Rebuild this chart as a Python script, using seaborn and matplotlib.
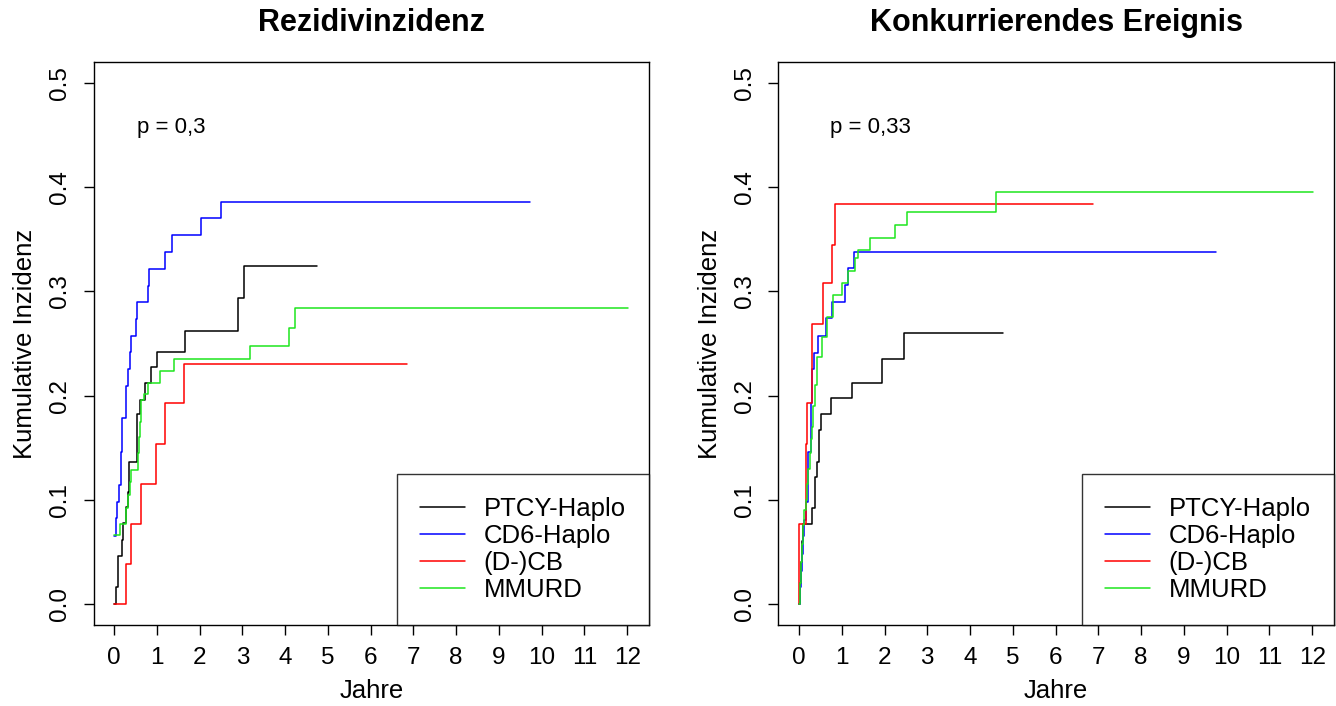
import matplotlib
matplotlib.use("Agg")
import matplotlib.pyplot as plt
import numpy as np
import pandas as pd
import seaborn as sns

groups = ["PTCY-Haplo", "CD6-Haplo", "(D-)CB", "MMURD"]
colors = ["black", "blue", "red", "#1ee61e"]
x_ticks = list(range(0, 13))
y_ticks = [0.0, 0.1, 0.2, 0.3, 0.4, 0.5]
y_tick_labels = ["0.0", "0.1", "0.2", "0.3", "0.4", "0.5"]

# Rezidivinzidenz (left panel), step curves
rel_ptcy_t = [0, 0.047, 0.101, 0.179, 0.218, 0.273, 0.32, 0.359, 0.53, 0.608, 0.725, 0.866, 1.014, 1.66, 2.91, 3.05, 4.74]
rel_ptcy_v = [0, 0.0166, 0.046, 0.062, 0.0774, 0.093, 0.108, 0.1365, 0.182, 0.196, 0.2117, 0.2276, 0.242, 0.2618, 0.2932, 0.3242, 0.3242]
rel_cd6_t = [0, 0.039, 0.078, 0.125, 0.164, 0.17, 0.175, 0.195, 0.281, 0.29, 0.335, 0.374, 0.398, 0.507, 0.53, 0.788, 0.827, 1.193, 1.349, 2.035, 2.495, 9.73]
rel_cd6_v = [0.0652, 0.0822, 0.0981, 0.1141, 0.130, 0.146, 0.1621, 0.1781, 0.1937, 0.2094, 0.226, 0.2414, 0.2574, 0.2734, 0.29, 0.3053, 0.3213, 0.3379, 0.3539, 0.3699, 0.3853, 0.3853]
rel_cb_t = [0, 0.281, 0.398, 0.632, 0.975, 1.193, 1.637, 6.85]
rel_cb_v = [0, 0.0385, 0.077, 0.1157, 0.154, 0.1925, 0.2302, 0.2302]
rel_mmurd_t = [0, 0.14, 0.28, 0.33, 0.37, 0.398, 0.569, 0.59, 0.61, 0.63, 0.70, 0.788, 1.076, 1.403, 3.18, 4.08, 4.23, 12.02]
rel_mmurd_v = [0.0662, 0.0767, 0.092, 0.105, 0.117, 0.1285, 0.145, 0.16, 0.175, 0.1957, 0.202, 0.2123, 0.2238, 0.2347, 0.2475, 0.265, 0.2843, 0.2843]

# Konkurrierendes Ereignis (right panel)
cmp_ptcy_t = [0, 0.02, 0.04, 0.06, 0.1, 0.296, 0.374, 0.429, 0.476, 0.507, 0.745, 1.232, 1.94, 2.463, 4.76]
cmp_ptcy_v = [0, 0.02, 0.04, 0.061, 0.0767, 0.0918, 0.122, 0.1365, 0.167, 0.182, 0.1973, 0.2123, 0.2347, 0.2596, 0.2596]
cmp_cd6_t = [0, 0.03, 0.05, 0.07, 0.09, 0.12, 0.164, 0.218, 0.273, 0.312, 0.359, 0.452, 0.632, 0.764, 1.076, 1.154, 1.287, 9.75]
cmp_cd6_v = [0, 0.016, 0.032, 0.048, 0.065, 0.081, 0.098, 0.146, 0.1925, 0.226, 0.241, 0.2574, 0.274, 0.29, 0.306, 0.322, 0.3376, 0.3376]
cmp_cb_t = [0, 0.01, 0.16, 0.17, 0.18, 0.296, 0.569, 0.77, 0.842, 6.87]
cmp_cb_v = [0, 0.077, 0.115, 0.154, 0.1925, 0.269, 0.3076, 0.3443, 0.3837, 0.3837]
cmp_mmurd_t = [0, 0.02, 0.04, 0.06, 0.09, 0.12, 0.164, 0.19, 0.22, 0.25, 0.27, 0.296, 0.33, 0.37, 0.413, 0.53, 0.647, 0.803, 0.998, 1.154, 1.31, 1.388, 1.661, 2.246, 2.519, 4.608, 12.02]
cmp_mmurd_v = [0, 0.02, 0.04, 0.058, 0.076, 0.09, 0.0998, 0.115, 0.13, 0.145, 0.158, 0.17, 0.19, 0.21, 0.237, 0.2564, 0.2756, 0.2964, 0.3076, 0.32, 0.3316, 0.34, 0.3514, 0.3635, 0.3763, 0.3949, 0.3949]


def long_df(pairs):
    frames = []
    for g, (t, v) in zip(groups, pairs):
        frames.append(pd.DataFrame({"Jahre": t, "ci": v, "group": g}))
    return pd.concat(frames, ignore_index=True)


rel = long_df([(rel_ptcy_t, rel_ptcy_v), (rel_cd6_t, rel_cd6_v),
               (rel_cb_t, rel_cb_v), (rel_mmurd_t, rel_mmurd_v)])
cmp = long_df([(cmp_ptcy_t, cmp_ptcy_v), (cmp_cd6_t, cmp_cd6_v),
               (cmp_cb_t, cmp_cb_v), (cmp_mmurd_t, cmp_mmurd_v)])

sns.set_theme(style="white")
plt.rcParams["font.family"] = ["Liberation Sans", "DejaVu Sans"]
plt.rcParams["text.color"] = "black"
plt.rcParams["axes.labelcolor"] = "black"
plt.rcParams["axes.titlecolor"] = "black"

fig = plt.figure(figsize=(13.36, 7.06), dpi=100)
ax1 = fig.add_axes([0.0700, 0.1147, 0.4158, 0.7975])
ax2 = fig.add_axes([0.5827, 0.1147, 0.4158, 0.7975])


def panel(ax, data, title, ptext, px):
    sns.lineplot(data=data, x="Jahre", y="ci", hue="group", hue_order=groups,
                 palette=colors, drawstyle="steps-post", estimator=None,
                 sort=False, linewidth=1.1, legend=False, ax=ax)
    ax.set_xlim(-0.48, 12.51)
    ax.set_ylim(-0.02, 0.52)
    ax.set_xticks(x_ticks)
    ax.set_xticklabels([str(x) for x in x_ticks])
    ax.set_yticks(y_ticks)
    ax.set_yticklabels(y_tick_labels, rotation=90, va="center")
    ax.tick_params(direction="out", length=7, width=1, labelsize=17.5,
                   color="black", labelcolor="black", bottom=True, left=True)
    ax.tick_params(axis="x", pad=9)
    ax.tick_params(axis="y", pad=9)
    for s in ax.spines.values():
        s.set_color("black")
        s.set_linewidth(1)
    ax.set_xlabel("Jahre", fontsize=18.5, labelpad=7)
    ax.set_ylabel("Kumulative Inzidenz", fontsize=18.5, labelpad=8.5)
    ax.set_title(title, fontsize=22, fontweight="bold", pad=22)
    ax.text(px, 0.4575, ptext, fontsize=16, ha="left", va="center")
    leg = ax.legend(ax.get_lines()[:4], groups, loc="lower right",
                    borderaxespad=0, fancybox=False, fontsize=18.5,
                    handlelength=1.75, handletextpad=0.72, labelspacing=0.12,
                    borderpad=0.9)
    leg.get_frame().set_edgecolor("black")
    leg.get_frame().set_linewidth(1)


panel(ax1, rel, "Rezidivinzidenz", "p = 0,3", 0.54)
panel(ax2, cmp, "Konkurrierendes Ereignis", "p = 0,33", 0.73)

fig.savefig("out.png", dpi=100, facecolor="white")
